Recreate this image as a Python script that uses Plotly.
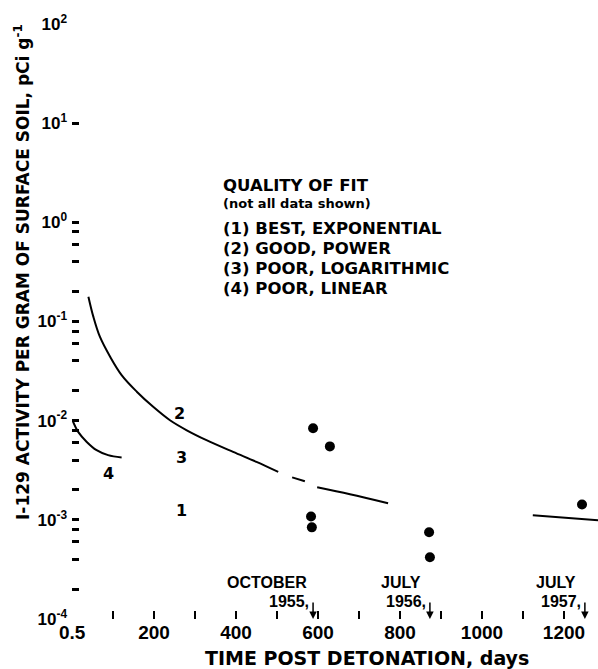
import numpy as np
import plotly.graph_objects as go

# ---- data ----
sample_days = [588, 629, 583, 585, 871, 873, 1244]
sample_activity = [8.4e-3, 5.5e-3, 1.08e-3, 8.4e-4, 7.5e-4, 4.2e-4, 1.43e-3]

# curve (2) power fit, drawn with breaks as in the original
power_days = [40, 52, 68, 93, 121, 158, 198, 239, 280, 328, 393, 450, 503, None,
              537, 568, None, 598, 678, 771, None, 1124, 1283]
power_activity = [0.178, 0.112, 0.0702, 0.0441, 0.0288, 0.0196, 0.0138, 0.0101,
                  0.0080, 0.00636, 0.00484, 0.00384, 0.00304, None,
                  0.00268, 0.00245, None, 0.00213, 0.00181, 0.00147, None,
                  0.00111, 0.00099]

# curve (4) linear fit
linear_days = [1, 15, 36, 60, 88, 121]
linear_activity = [0.0101, 0.0077, 0.0061, 0.00504, 0.00449, 0.00425]

# curve labels
curve_label_text = ["2", "3", "4", "1"]
curve_label_days = [263, 267, 88, 268]
curve_label_activity = [0.0118, 0.00425, 0.00292, 0.00123]

# sampling date arrows
event_days = [588, 873, 1251]
event_month = ["OCTOBER", "JULY", "JULY"]
event_year = ["1955,", "1956,", "1957,"]

x_tickvals = [0.5, 200, 400, 600, 800, 1000, 1200]
x_ticktext = ["0.5", "200", "400", "600", "800", "1000", "1200"]
x_minor = [100, 300, 500, 700, 900, 1100]
y_tickvals = [1e-4, 1e-3, 1e-2, 1e-1, 1e0, 1e1, 1e2]
y_ticktext = ["10<sup>-4</sup>", "10<sup>-3</sup>", "10<sup>-2</sup>", "10<sup>-1</sup>",
              "10<sup>0</sup>", "10<sup>1</sup>", "10<sup>2</sup>"]
y_minor = [m * 10.0 ** e for e in range(-4, 0) for m in (2, 4, 6, 8)] + [0.2, 0.4, 0.6]

legend_lines = ["QUALITY OF FIT", "(not all data shown)", "(1) BEST, EXPONENTIAL",
                "(2) GOOD, POWER", "(3) POOR, LOGARITHMIC", "(4) POOR, LINEAR"]

W, H = 598, 669
ML, MR, MT, MB = 72, 0, 24, 50
PW, PH = W - ML - MR, H - MT - MB

def px_x(p):
    return (p - ML) / PW

def px_y(p):
    return (H - MB - p) / PH

BOLD = "DejaVu Sans"
ARIAL = "Liberation Sans"

fig = go.Figure()
fig.add_trace(go.Scatter(x=power_days, y=power_activity, mode="lines",
                         line=dict(color="black", width=2, shape="spline", smoothing=1.0),
                         connectgaps=False, showlegend=False, hoverinfo="skip"))
fig.add_trace(go.Scatter(x=linear_days, y=linear_activity, mode="lines",
                         line=dict(color="black", width=2, shape="spline", smoothing=1.0),
                         showlegend=False, hoverinfo="skip"))
fig.add_trace(go.Scatter(x=sample_days, y=sample_activity, mode="markers",
                         marker=dict(color="black", size=10),
                         showlegend=False))

ann = []
for t, d, v in zip(curve_label_text, curve_label_days, curve_label_activity):
    ann.append(dict(x=d, y=np.log10(v), text=t, showarrow=False,
                    font=dict(family=BOLD, size=16, color="black", weight="bold")))

for d, m, yr in zip(event_days, event_month, event_year):
    ann.append(dict(x=d, y=-4, text="", showarrow=True, ax=0, ay=-18,
                    arrowhead=2, arrowsize=1, arrowwidth=1.5, arrowcolor="black"))
    ann.append(dict(x=d, y=-4, text=m, showarrow=False, xanchor="right",
                    yanchor="middle", xshift=-4 if m == "OCTOBER" else -7,
                    yshift=37,
                    font=dict(family=ARIAL, size=16, color="black", weight="bold")))
    ann.append(dict(x=d, y=-4, text=yr, showarrow=False, xanchor="right",
                    yanchor="middle", xshift=-2, yshift=18,
                    font=dict(family=ARIAL, size=16, color="black", weight="bold")))

leg_y = [185, 203, 228, 248, 268, 288]
for i, (txt, yy) in enumerate(zip(legend_lines, leg_y)):
    ann.append(dict(xref="paper", yref="paper", x=px_x(221), y=px_y(yy),
                    text=txt, showarrow=False, xanchor="left", yanchor="middle",
                    font=dict(family=BOLD, size=13 if i == 1 else 16.5,
                              color="black", weight="bold")))

ann.append(dict(xref="paper", yref="paper", x=px_x(367), y=px_y(658),
                text="TIME POST DETONATION, days", showarrow=False,
                xanchor="center", yanchor="middle",
                font=dict(family=BOLD, size=19, color="black", weight="bold")))
ann.append(dict(xref="paper", yref="paper", x=px_x(22), y=px_y(272),
                text="I-129 ACTIVITY PER GRAM OF SURFACE SOIL, pCi g<sup>-1</sup>",
                textangle=-90, showarrow=False, xanchor="center", yanchor="middle",
                font=dict(family=BOLD, size=17, color="black", weight="bold")))

fig.update_layout(
    width=W, height=H, margin=dict(l=ML, r=MR, t=MT, b=MB, autoexpand=False),
    paper_bgcolor="white", plot_bgcolor="white",
    annotations=ann,
    xaxis=dict(range=[0, 1283], showgrid=False, zeroline=False, showline=False,
               automargin=False,
               tickmode="array", tickvals=x_tickvals, ticktext=x_ticktext,
               ticks="inside", ticklen=8, tickwidth=1.5, tickcolor="black",
               minor=dict(tickmode="array", tickvals=x_minor, ticks="inside",
                          ticklen=8, tickwidth=1.5, tickcolor="black", showgrid=False),
               tickfont=dict(family=ARIAL, size=19, color="black", weight="bold")),
    yaxis=dict(type="log", range=[-4, 2], showgrid=False, zeroline=False, showline=False,
               automargin=False, ticklabelstandoff=4,
               tickmode="array", tickvals=y_tickvals, ticktext=y_ticktext,
               ticks="inside", ticklen=7, tickwidth=2.5, tickcolor="black",
               minor=dict(tickmode="array", tickvals=y_minor, ticks="inside",
                          ticklen=7, tickwidth=2.5, tickcolor="black", showgrid=False),
               tickfont=dict(family=ARIAL, size=17, color="black", weight="bold")),
)

fig.write_html("out.html", config={"displayModeBar": False},
               post_script="document.body.style.margin='0';document.body.style.padding='0';")
